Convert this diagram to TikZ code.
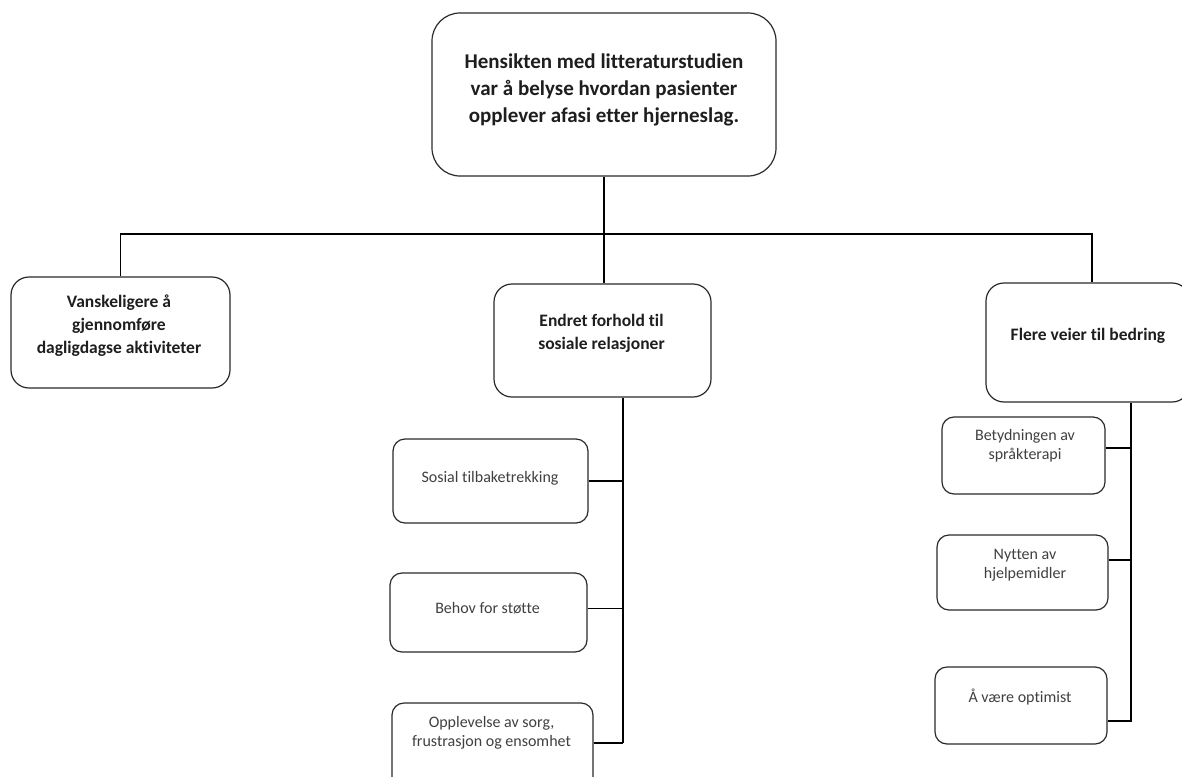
\documentclass[tikz,border=0pt]{standalone}
\usepackage{fontspec}
\setmainfont{Carlito}[Ligatures=NoCommon]
\definecolor{edge}{HTML}{2A2A2A}
\definecolor{ink}{HTML}{1E1E1E}
\begin{document}
\begin{tikzpicture}[x=1pt,y=-1pt,
  box/.style={draw=edge, line width=1.2pt, rounded corners=#1, inner sep=0pt, fill=white},
  box/.default=12pt,
  conn/.style={draw=black, line width=1.1pt},
  toptext/.style={text=ink, align=center, font=\fontsize{21}{27}\selectfont\bfseries},
  midtext/.style={text=ink, align=center, font=\fontsize{17.5}{23}\selectfont\bfseries},
  subtext/.style={text=ink!85, align=center, font=\fontsize{16}{19}\selectfont}]
\useasboundingbox (0,0) rectangle (1182,776);
\fill[white] (0,0) rectangle (1182,776);

% boxes
\node[box=28pt, minimum width=344pt, minimum height=163pt] (top) at (604,94.5) {};
\node[box=18pt, minimum width=219pt, minimum height=111pt] (left) at (120.5,332.5) {};
\node[box=18pt, minimum width=217pt, minimum height=113pt] (mid) at (602.5,340.5) {};
\node[box=18pt, minimum width=204pt, minimum height=119pt] (right) at (1088,342.5) {};
\node[box, minimum width=195pt, minimum height=84pt] (s1) at (490.5,481) {};
\node[box, minimum width=197pt, minimum height=79pt] (s2) at (488.5,612.5) {};
\node[box, minimum width=201pt, minimum height=86pt] (s3) at (492.5,746) {};
\node[box, minimum width=163pt, minimum height=77pt] (r1) at (1023.5,455.5) {};
\node[box, minimum width=171pt, minimum height=75pt] (r2) at (1022.5,572.5) {};
\node[box, minimum width=172pt, minimum height=77pt] (r3) at (1021,705.5) {};

% texts
\node[toptext] (ttop) at (604,90) {Hensikten med litteraturstudien\\var å belyse hvordan pasienter\\opplever afasi etter hjerneslag.};
\node[midtext] (tleft) at (119,326) {Vanskeligere å\\gjennomføre\\dagligdagse aktiviteter};
\node[midtext] (tmid) at (601.5,333.5) {Endret forhold til\\sosiale relasjoner};
\node[midtext, anchor=mid] (tright) at (1088,338) {Flere veier til bedring};
\node[subtext, anchor=mid] (ts1) at (490,480) {Sosial tilbaketrekking};
\node[subtext, anchor=mid] (ts2) at (487.5,611) {Behov for støtte};
\node[subtext] (ts3) at (491.5,733) {Opplevelse av sorg,\\frustrasjon og ensomhet};
\node[subtext] (tr1) at (1025,446) {Betydningen av\\språkterapi};
\node[subtext] (tr2) at (1025,565) {Nytten av\\hjelpemidler};
\node[subtext, anchor=mid] (tr3) at (1020,700) {Å være optimist};

% connectors
\coordinate (bus) at (0,234);
\coordinate (mtb) at (623,743);
\coordinate (rtb) at (1131,722);
\draw[conn] (top.south) -- (top.south |- mid.north);
\draw[conn] (left.north) -- (left.north |- bus) -- ([xshift=4pt]right.north |- bus) -- ([xshift=4pt]right.north);
\draw[conn] (mid.south -| mtb) -- (mtb);
\draw[conn] (s1.east) -- (s1.east -| mtb);
\draw[conn] ([yshift=4pt]s2.east) -- ([yshift=4pt]s2.east -| mtb);
\draw[conn] ([yshift=3pt]s3.east) -- ([yshift=3pt]s3.east -| mtb);
\draw[conn] (right.south -| rtb) -- (rtb);
\draw[conn] ([yshift=7.5pt]r1.east) -- ([yshift=7.5pt]r1.east -| rtb);
\draw[conn] ([yshift=12.5pt]r2.east) -- ([yshift=12.5pt]r2.east -| rtb);
\draw[conn] ([yshift=-15.5pt]r3.east) -- ([yshift=-15.5pt]r3.east -| rtb);
\end{tikzpicture}
\end{document}
